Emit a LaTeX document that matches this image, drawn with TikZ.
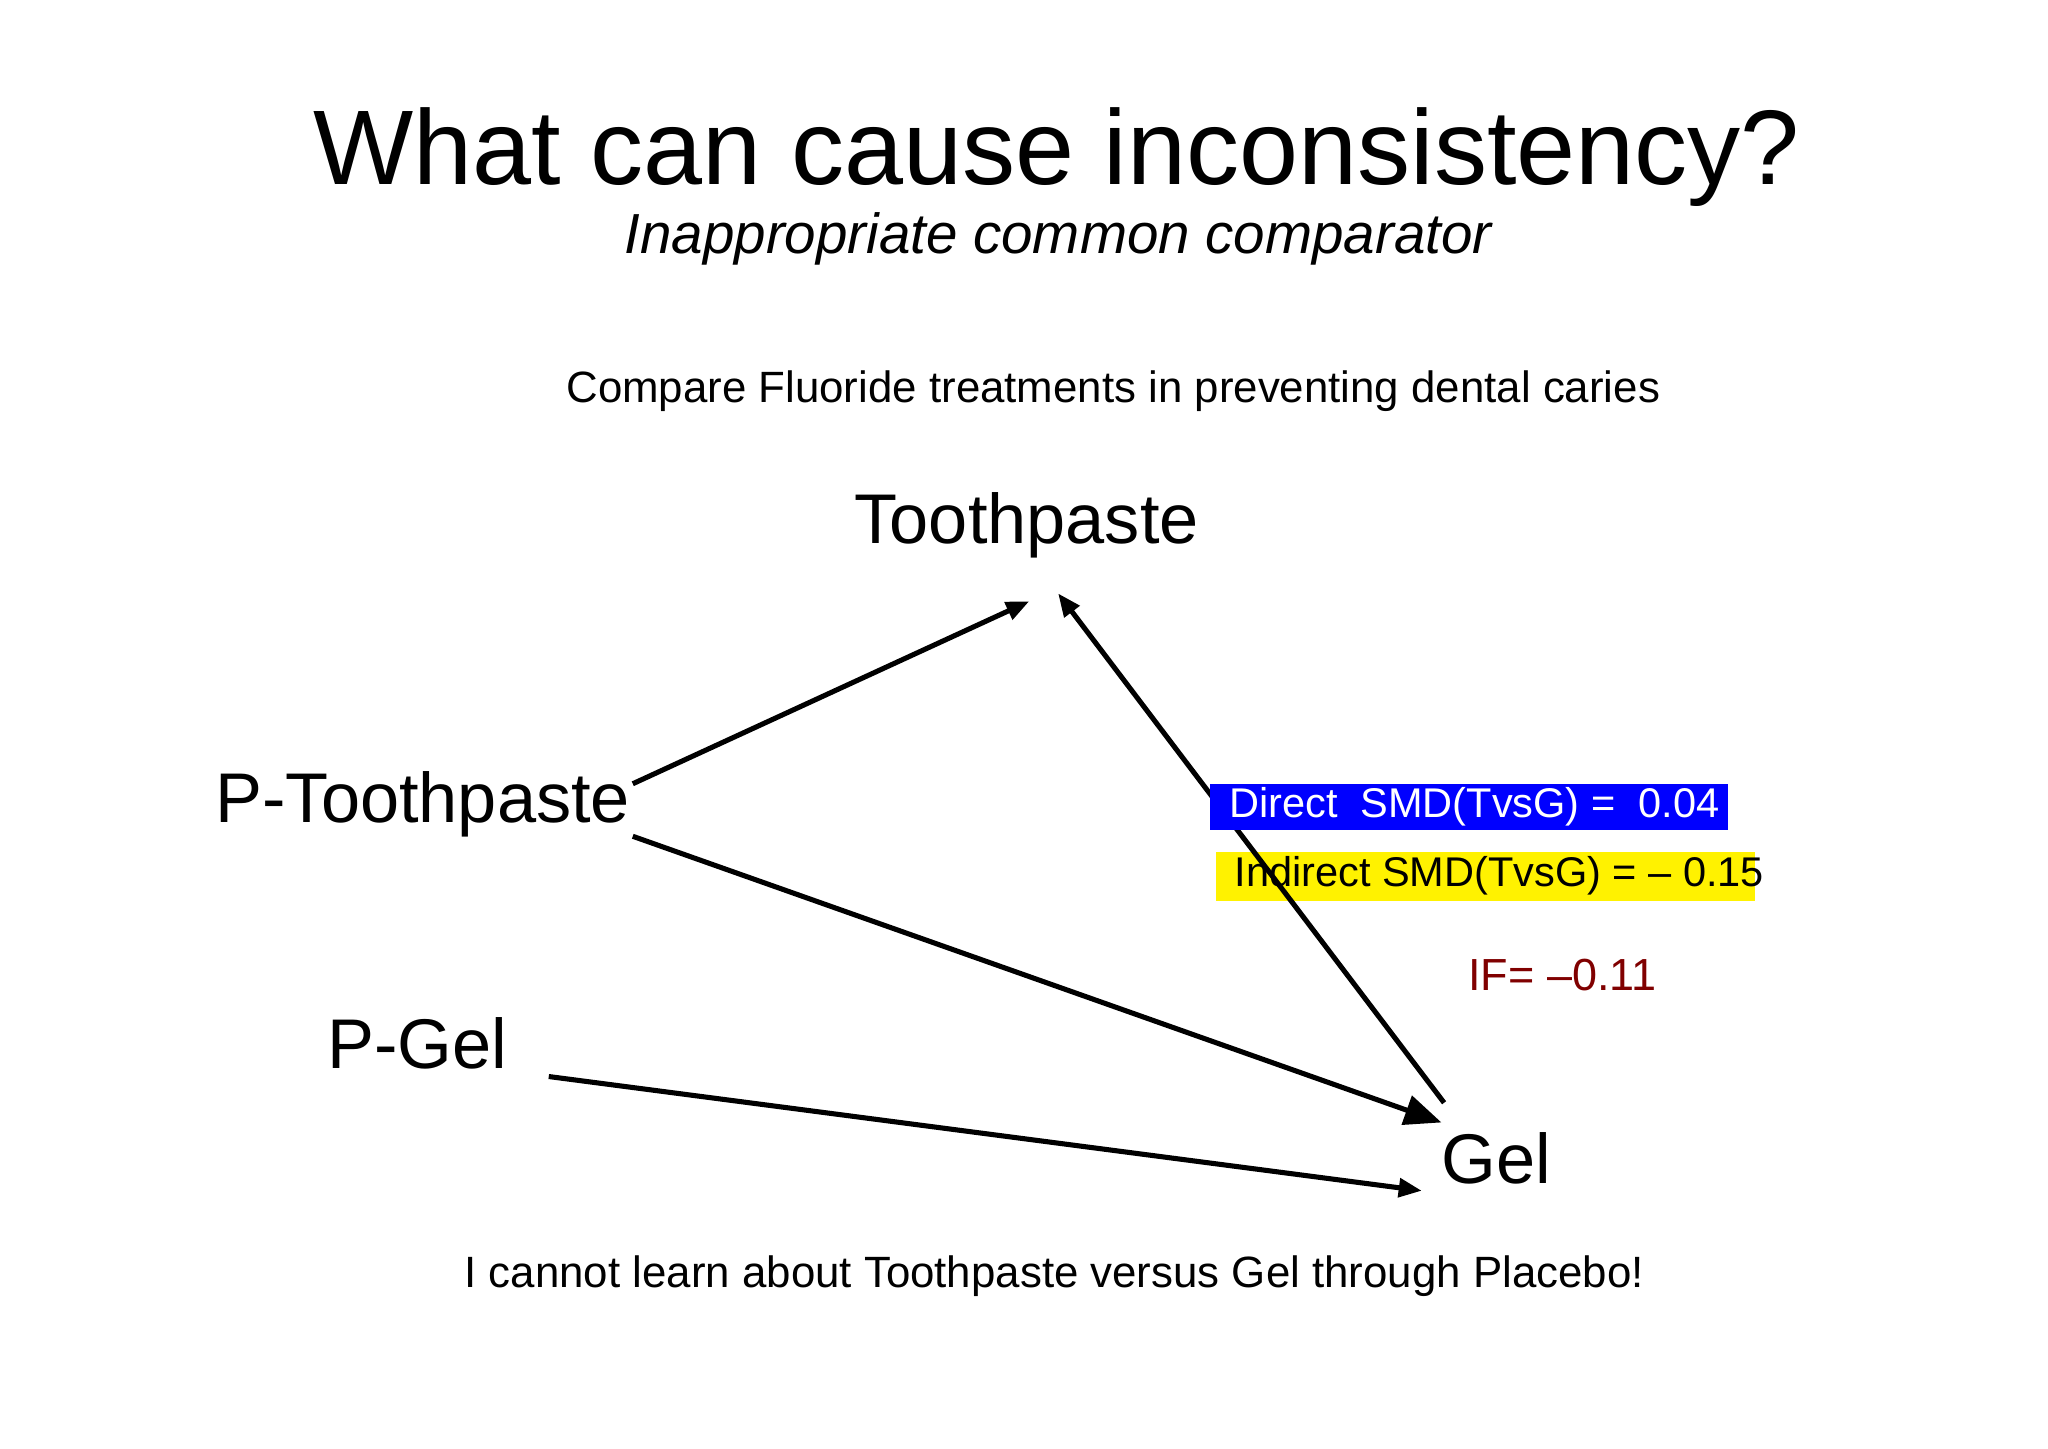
\documentclass[tikz,border=0pt]{standalone}
\usepackage{fontspec}
\setmainfont{Liberation Sans}
\usetikzlibrary{arrows.meta}
\begin{document}
\begin{tikzpicture}[x=0.02cm,y=-0.02cm,
  lbl/.style={inner sep=0pt,anchor=center},
  conn/.style={line width=2.2pt,-{Triangle[length=10pt,width=8pt]}},
  big/.style={font=\fontsize{30.5}{36}\selectfont},
  boxt/.style={inner sep=0pt,anchor=north west,minimum height=0.72cm,font=\fontsize{18}{22}\selectfont}]
\useasboundingbox (0,0) rectangle (1560,1103);
\node[lbl,font=\fontsize{46}{52}\selectfont] (title) at (805,120) {What can cause inconsistency?};
\node[lbl,font=\fontsize{24.5}{30}\selectfont\itshape] (sub) at (806,182) {Inappropriate common comparator};
\node[lbl,font=\fontsize{19}{23}\selectfont] (cmp) at (848,298) {Compare Fluoride treatments in preventing dental caries};
\node[lbl,big] (T) at (782,400) {Toothpaste};
\node[lbl,big] (PT) at (322,613) {P-Toothpaste};
\node[lbl,big] (PG) at (318,795) {P-Gel};
\node[lbl,big] (G) at (1140,882) {Gel};
\coordinate (t1) at (784,458); \coordinate (t2) at (806,452);
\coordinate (pt1) at (482,597); \coordinate (pt2) at (482,637);
\coordinate (g1) at (1100,840); \coordinate (g2) at (1098,855); \coordinate (g3) at (1083,907);
\coordinate (pg1) at (418,820);
\draw[conn] (pt1) -- (t1);
\draw[conn,-{Triangle[length=16pt,width=13pt]}] (pt2) -- (g2);
\draw[conn] (pg1) -- (g3);
\fill[yellow] (926,649) rectangle (1337,686);
\node[boxt] (ind) at (940,649) {Indirect SMD(TvsG) = -- 0.15};
\draw[conn] (g1) -- (t2);
\fill[blue] (922,597) rectangle (1316,632);
\node[boxt,text=white,minimum height=0.7cm] (dir) at (936,597) {Direct\ \ SMD(TvsG) =\ \ 0.04};
\node[lbl,text={rgb,255:red,128;green,0;blue,0},font=\fontsize{19.5}{24}\selectfont] (IF) at (1190,743) {IF= --0.11};
\node[lbl,font=\fontsize{19}{23}\selectfont] (bot) at (803,972) {I cannot learn about Toothpaste versus Gel through Placebo!};
\end{tikzpicture}
\end{document}
